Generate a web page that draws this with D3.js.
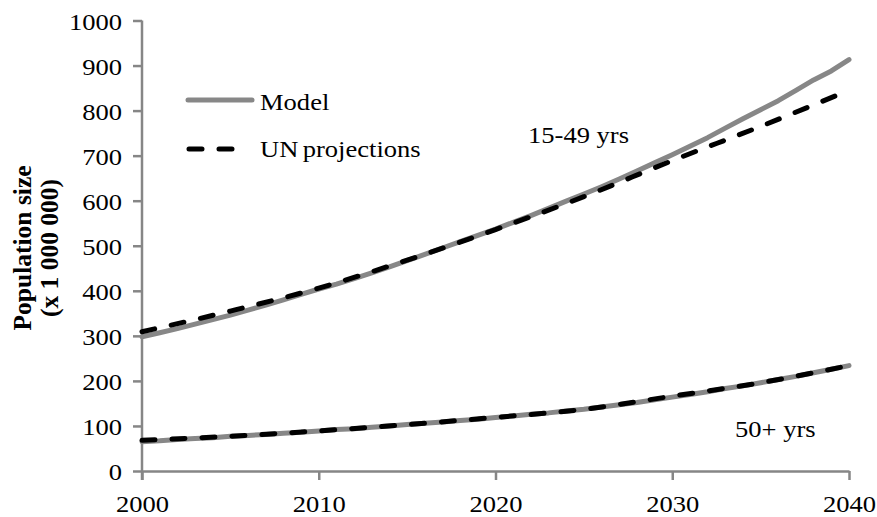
<!DOCTYPE html>
<html>
<head>
<meta charset="utf-8">
<script src="https://cdn.jsdelivr.net/npm/d3@7"></script>
<style>
  html, body { margin: 0; padding: 0; background: #fff; }
  svg { display: block; font-family: "Liberation Serif", "Times New Roman", serif; }
</style>
</head>
<body>
<svg id="chart" width="877" height="517"></svg>
<script>
// Years for the annual model output
const modelYears = d3.range(2000, 2041);
// Model, population aged 15-49 (millions)
const model1549 = [298, 307, 316, 326, 336, 346, 357, 368, 380, 392, 404, 415, 427, 440, 453, 467, 481, 495, 509, 523, 537,
  552, 567, 583, 599, 615, 631, 648, 666, 684, 702, 721, 740, 761, 782, 802, 822, 845, 868, 888, 913];
// Model, population aged 50+ (millions)
const model50 = [65, 67, 70, 72, 74, 77, 79, 81, 84, 86, 89, 92, 94, 97, 100, 103, 106, 109, 112, 115, 119,
  122, 126, 129, 133, 137, 142, 147, 152, 158, 164, 170, 176, 183, 189, 196, 203, 210, 218, 226, 234];
// UN projections, five-yearly
const unYears = [2000, 2005, 2010, 2015, 2020, 2025, 2030, 2035, 2040];
const un1549 = [309, 355, 406, 468, 536, 609, 689, 765, 845];
const un50 = [68, 77, 89, 103, 119, 137, 166, 196, 234];

const xTicks = [2000, 2010, 2020, 2030, 2040];
const yTicks = d3.range(0, 1001, 100);

const svg = d3.select("#chart");
const margin = { left: 142, right: 28, top: 20.5, bottom: 46 };
const W = 877, H = 517;
const FONT = "'Liberation Serif', 'Times New Roman', serif";
const SX = 1.13; // horizontal widening of the serif type

const x = d3.scaleLinear().domain([2000, 2040]).range([margin.left, W - margin.right]);
const y = d3.scaleLinear().domain([0, 1000]).range([H - margin.bottom, margin.top]);

const axisColor = "#868686";

// Axes
const gx = svg.append("g")
  .attr("transform", `translate(0,${y(0)})`)
  .call(d3.axisBottom(x).tickValues(xTicks).tickFormat(d3.format("d")).tickSize(9).tickSizeOuter(0));
const gy = svg.append("g")
  .attr("transform", `translate(${x(2000)},0)`)
  .call(d3.axisLeft(y).tickValues(yTicks).tickFormat(d3.format("d")).tickSize(9).tickSizeOuter(0));

[gx, gy].forEach(g => {
  g.attr("font-family", FONT).attr("font-size", 23.5);
  g.select(".domain").attr("stroke", axisColor).attr("stroke-width", 2.5);
  g.selectAll(".tick line").attr("stroke", axisColor).attr("stroke-width", 2.5);
  g.selectAll(".tick text").attr("fill", "#000");
});
gx.selectAll(".tick text").attr("x", 0).attr("y", 0).attr("dy", null)
  .attr("transform", `translate(0,41) scale(${SX},1)`);
gy.selectAll(".tick text").attr("x", 0).attr("dy", "0.38em")
  .attr("transform", `translate(-20,0) scale(${SX},1)`);
// extend the y axis down to meet the tick below the x axis
gy.select(".domain").attr("d", `M0,${y(1000)}V${y(0) + 9}`);

// Lines
const lineModel = d3.line().x((d, i) => x(modelYears[i])).y(d => y(d)).curve(d3.curveLinear);
const lineUN = d3.line().x((d, i) => x(unYears[i])).y(d => y(d)).curve(d3.curveMonotoneX);

const gray = "#878787";
[model1549, model50].forEach(s => {
  svg.append("path").attr("d", lineModel(s)).attr("fill", "none")
    .attr("stroke", gray).attr("stroke-width", 5).attr("stroke-linejoin", "round").attr("stroke-linecap", "round");
});
[un1549, un50].forEach(s => {
  svg.append("path").attr("d", lineUN(s)).attr("fill", "none")
    .attr("stroke", "#000").attr("stroke-width", 5).attr("stroke-dasharray", "13,17")
    .attr("stroke-linecap", "round");
});

// Horizontal labels, widened like the tick labels
function label(tx, ty, str) {
  return svg.append("text").attr("transform", `translate(${tx},${ty}) scale(${SX},1)`)
    .style("font-size", "23.5px").text(str);
}

// Legend
svg.append("line").attr("x1", 188).attr("x2", 252).attr("y1", 100).attr("y2", 100)
  .attr("stroke", gray).attr("stroke-width", 5).attr("stroke-linecap", "round");
label(260, 110, "Model");
svg.append("line").attr("x1", 189).attr("x2", 236).attr("y1", 149).attr("y2", 149)
  .attr("stroke", "#000").attr("stroke-width", 5).attr("stroke-dasharray", "13,17").attr("stroke-linecap", "round");
label(260, 157, "UN projections").style("word-spacing", "-2px");

// Series labels
label(528, 143, "15-49 yrs");
label(735, 437, "50+ yrs");

// Y-axis title
const yt = svg.append("text").attr("transform", "translate(0,248) rotate(-90)")
  .attr("text-anchor", "middle").style("font-weight", "bold").style("font-size", "25.5px");
yt.append("tspan").attr("x", 0).attr("y", 31).text("Population size");
yt.append("tspan").attr("x", 0).attr("y", 58).text("(x 1 000 000)");
</script>
</body>
</html>
